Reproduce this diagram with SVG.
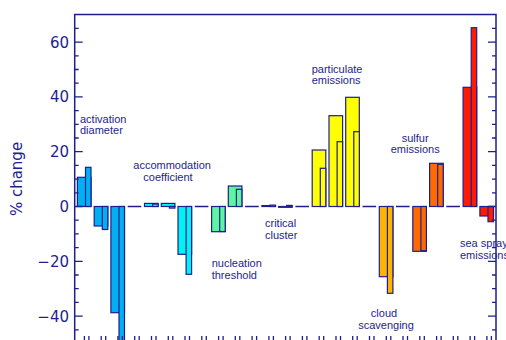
<svg xmlns="http://www.w3.org/2000/svg" width="506" height="340" viewBox="0 0 506 340">
<style>
.ax{stroke:#1e1e8c;stroke-width:1.5;fill:none}
.tk{stroke:#1e1e8c;stroke-width:1.3}
.b{stroke:#1e1e8c;stroke-width:1.2}
.z{stroke:#1e1e8c;stroke-width:1.5}
.num{font-family:"DejaVu Sans",sans-serif;font-size:15px;fill:#1e1e8c;text-anchor:end}
.lb{font-family:"Liberation Sans",Arial,sans-serif;font-size:11px;fill:#1e1e8c}
.c1{fill:#00b0f0}.c2{fill:#00f2f2}.c3{fill:#5cf5a0}.c4{fill:#ffff00}.c5{fill:#ffb400}.c6{fill:#ff6a00}.c7{fill:#ff1a00}
</style>
<rect width="506" height="340" fill="#fff"/>
<g id="bars">
<g id="activation-diameter" class="c1">
<rect class="b" x="77.4" y="177.3" width="13.6" height="29.2"/>
<rect class="b" x="85.5" y="167.3" width="5.5" height="39.2"/>
<rect class="b" x="94.2" y="206.5" width="13.6" height="19.5"/>
<rect class="b" x="102.3" y="206.5" width="5.5" height="23"/>
<rect class="b" x="110.9" y="206.5" width="13.6" height="106.2"/>
<rect class="b" x="119" y="206.5" width="5.5" height="140"/>
</g>
<g id="accommodation-coefficient" class="c2">
<rect class="b" x="144.5" y="203.4" width="13.6" height="3.1"/>
<rect class="b" x="152.6" y="204" width="5.5" height="2.5"/>
<rect class="b" x="161.3" y="203.4" width="13.6" height="3.1"/>
<rect class="b" x="169.4" y="206.5" width="5.5" height="1.6"/>
<rect class="b" x="178" y="206.5" width="13.6" height="47.8"/>
<rect class="b" x="186.1" y="206.5" width="5.5" height="67.8"/>
</g>
<g id="nucleation-threshold" class="c3">
<rect class="b" x="211.6" y="206.5" width="13.6" height="25.2"/>
<rect class="b" x="219.7" y="206.5" width="5.5" height="25"/>
<rect class="b" x="228.3" y="186" width="13.6" height="20.5"/>
<rect class="b" x="236.4" y="189.3" width="5.5" height="17.2"/>
</g>
<g id="critical-cluster" class="c3">
<rect class="b" x="261.9" y="205.6" width="13.6" height="0.9"/>
<rect class="b" x="270" y="205.1" width="5.5" height="1.4"/>
<rect class="b" x="278.6" y="206.5" width="13.6" height="0.8"/>
<rect class="b" x="286.7" y="205.4" width="5.5" height="1.1"/>
</g>
<g id="particulate-emissions" class="c4">
<rect class="b" x="312.2" y="150" width="13.6" height="56.5"/>
<rect class="b" x="320.3" y="168.3" width="5.5" height="38.2"/>
<rect class="b" x="329" y="115.7" width="13.6" height="90.8"/>
<rect class="b" x="337.1" y="141.7" width="5.5" height="64.8"/>
<rect class="b" x="345.7" y="97.3" width="13.6" height="109.2"/>
<rect class="b" x="353.8" y="131.7" width="5.5" height="74.8"/>
</g>
<g id="cloud-scavenging" class="c5">
<rect class="b" x="379.3" y="206.5" width="13.6" height="70.2"/>
<rect class="b" x="387.4" y="206.5" width="5.5" height="86.8"/>
</g>
<g id="sulfur-emissions" class="c6">
<rect class="b" x="412.8" y="206.5" width="13.6" height="44.8"/>
<rect class="b" x="420.9" y="206.5" width="5.5" height="44.2"/>
<rect class="b" x="429.6" y="163.3" width="13.6" height="43.2"/>
<rect class="b" x="437.7" y="164.3" width="5.5" height="42.2"/>
</g>
<g id="sea-spray-emissions" class="c7">
<rect class="b" x="463.1" y="87.3" width="13.6" height="119.2"/>
<rect class="b" x="471.2" y="27.7" width="5.5" height="178.8"/>
<rect class="b" x="479.9" y="206.5" width="13.6" height="9.5"/>
<rect class="b" x="488" y="206.5" width="5.5" height="15.2"/>
</g>
<g id="zero-segments" class="z">
<line x1="127.7" y1="206.5" x2="141.3" y2="206.5"/>
<line x1="194.8" y1="206.5" x2="208.4" y2="206.5"/>
<line x1="245.1" y1="206.5" x2="258.7" y2="206.5"/>
<line x1="295.4" y1="206.5" x2="309" y2="206.5"/>
<line x1="362.5" y1="206.5" x2="376.1" y2="206.5"/>
<line x1="396" y1="206.5" x2="409.6" y2="206.5"/>
<line x1="446.3" y1="206.5" x2="459.9" y2="206.5"/>
</g>
</g>
<g id="axes">
<path class="ax" d="M74.7,345 V14.5 H496 V345"/>
<g class="tk">
<path d="M74.7,42.1h8M74.7,96.9h8M74.7,151.7h8M74.7,206.5h8M74.7,261.3h8M74.7,316.1h8"/>
<path d="M74.7,28.4h4M74.7,55.8h4M74.7,69.5h4M74.7,83.2h4M74.7,110.6h4M74.7,124.3h4M74.7,138h4M74.7,165.4h4M74.7,179.1h4M74.7,192.8h4M74.7,220.2h4M74.7,233.9h4M74.7,247.6h4M74.7,275h4M74.7,288.7h4M74.7,302.4h4M74.7,329.8h4"/>
<path d="M496,42.1h-8M496,96.9h-8M496,151.7h-8M496,206.5h-8M496,261.3h-8M496,316.1h-8"/>
<path d="M496,28.4h-4M496,55.8h-4M496,69.5h-4M496,83.2h-4M496,110.6h-4M496,124.3h-4M496,138h-4M496,165.4h-4M496,179.1h-4M496,192.8h-4M496,220.2h-4M496,233.9h-4M496,247.6h-4M496,275h-4M496,288.7h-4M496,302.4h-4M496,329.8h-4"/>
<path d="M84.4,336v6M88.9,336v6M101.2,336v6M105.7,336v6M117.9,336v6M122.4,336v6M134.7,336v6M139.2,336v6M151.5,336v6M156,336v6M168.3,336v6M172.8,336v6M185,336v6M189.5,336v6M201.8,336v6M206.3,336v6M218.6,336v6M223.1,336v6M235.3,336v6M239.8,336v6M252.1,336v6M256.6,336v6M268.9,336v6M273.4,336v6M285.6,336v6M290.1,336v6M302.4,336v6M306.9,336v6M319.2,336v6M323.7,336v6M336,336v6M340.5,336v6M352.7,336v6M357.2,336v6M369.5,336v6M374,336v6M386.3,336v6M390.8,336v6M403,336v6M407.5,336v6M419.8,336v6M424.3,336v6M436.6,336v6M441.1,336v6M453.3,336v6M457.8,336v6M470.1,336v6M474.6,336v6M486.9,336v6M491.4,336v6"/>
</g>
<g id="tick-labels">
<text class="num" x="69" y="47.6">60</text>
<text class="num" x="69" y="102.4">40</text>
<text class="num" x="69" y="157.2">20</text>
<text class="num" x="69" y="212">0</text>
<text class="num" x="69" y="266.8">−20</text>
<text class="num" x="69" y="321.6">−40</text>
</g>
<text id="y-title" class="num" style="text-anchor:middle" transform="translate(21.5,179) rotate(-90)">% change</text>
</g>
<g id="labels" class="lb">
<text x="80" y="123.3">activation</text>
<text x="80" y="134.3">diameter</text>
<text x="133.3" y="169">accommodation</text>
<text x="143.3" y="181">coefficient</text>
<text x="211.7" y="267">nucleation</text>
<text x="211.7" y="278.5">threshold</text>
<text x="265" y="227.3">critical</text>
<text x="265" y="239">cluster</text>
<text x="311.7" y="72.7">particulate</text>
<text x="311.7" y="84">emissions</text>
<text x="415.2" y="141.7" text-anchor="middle">sulfur</text>
<text x="415.2" y="153.3" text-anchor="middle">emissions</text>
<text x="384" y="317.3" text-anchor="middle">cloud</text>
<text x="386" y="328.7" text-anchor="middle">scavenging</text>
<text x="460" y="247.3">sea spray</text>
<text x="460" y="258.7">emissions</text>
</g>
</svg>
